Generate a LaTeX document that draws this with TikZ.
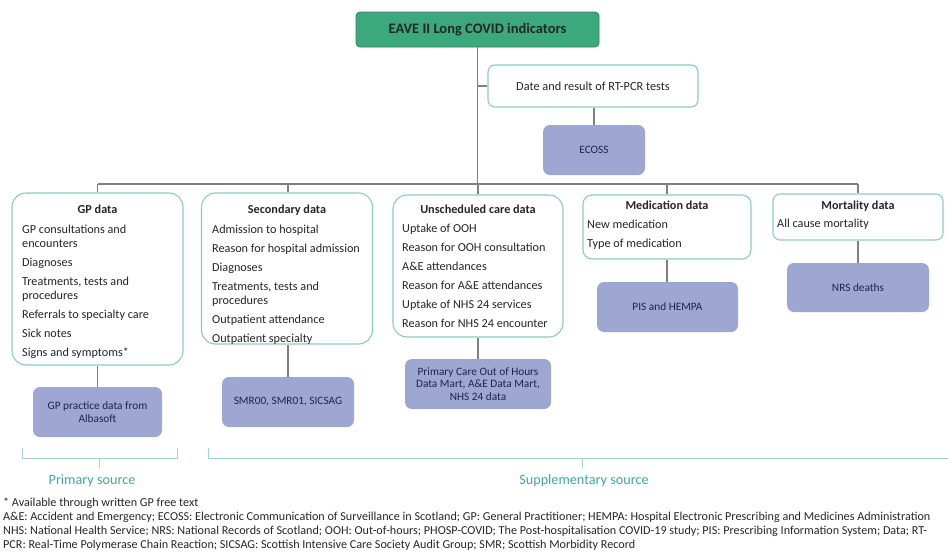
\documentclass[tikz,border=0pt]{standalone}
\usepackage{fontspec}
\setmainfont{Carlito}
\definecolor{titleGreen}{RGB}{60,168,126}
\definecolor{titleEdge}{RGB}{44,130,96}
\definecolor{boxTeal}{RGB}{140,204,188}
\definecolor{srcFill}{RGB}{158,166,210}
\definecolor{srcText}{RGB}{28,36,80}
\definecolor{connGray}{RGB}{128,128,128}
\definecolor{braceTeal}{RGB}{165,212,205}
\definecolor{labelTeal}{RGB}{70,165,165}
\definecolor{bodyText}{RGB}{38,38,38}
\newcommand{\itemfont}{\fontsize{12.2}{14}\selectfont}
\newcommand{\srcfont}{\fontsize{11.3}{12.5}\selectfont}
\begin{document}
\begin{tikzpicture}[x=1pt,y=-1pt,
  conn/.style={draw=connGray, line width=1.5pt},
  databox/.style={draw=boxTeal, line width=1.1pt, fill=white, rounded corners=14pt, inner sep=0pt},
  srcbox/.style={fill=srcFill, rounded corners=7pt, inner sep=0pt, align=center, text=srcText, font=\srcfont},
  headtext/.style={anchor=base, inner sep=0pt, text=bodyText, font=\fontsize{12.2}{14}\selectfont\bfseries},
  listtext/.style={anchor=base west, inner sep=0pt, text=bodyText, font=\itemfont},
  bracket/.style={draw=braceTeal, line width=1pt},
  srclabel/.style={text=labelTeal, font=\fontsize{14.2}{16}\selectfont, inner sep=0pt}
]
\useasboundingbox (0,0) rectangle (948,554);

% top of the tree
\node[fill=titleGreen, draw=titleEdge, line width=0.8pt, rounded corners=4pt,
      minimum width=243pt, minimum height=35pt, inner sep=0pt,
      font=\fontsize{14.5}{16}\selectfont\bfseries, text=black!85] (title) at (477.5,29.5) {EAVE II Long COVID indicators};
\node[databox, rounded corners=7pt, minimum width=210pt, minimum height=42pt,
      font=\fontsize{12.3}{14}\selectfont, text=bodyText] (rtpcr) at (593,86) {Date and result of RT-PCR tests};
\node[srcbox, minimum width=102pt, minimum height=50pt] (ecoss) at (594,150) {ECOSS};

% indicator groups
\node[databox, minimum width=171pt, minimum height=172pt] (gp)   at (97.5,279) {};
\node[databox, minimum width=171pt, minimum height=151pt] (sec)  at (287,268.5) {};
\node[databox, minimum width=170pt, minimum height=142pt] (uns)  at (478,266) {};
\node[databox, rounded corners=9pt, minimum width=168pt, minimum height=64pt] (med)  at (667,227) {};
\node[databox, rounded corners=7pt, minimum width=170pt, minimum height=46pt] (mort) at (858,217) {};

% data sources
\node[srcbox, minimum width=129pt, minimum height=50pt] (gpsrc)  at (97.5,412) {GP practice data from\\Albasoft};
\node[srcbox, minimum width=132pt, minimum height=50pt] (secsrc) at (288,402) {SMR00, SMR01, SICSAG};
\node[srcbox, minimum width=146pt, minimum height=50pt] (unssrc) at (478,384) {Primary Care Out of Hours\\Data Mart, A\&E Data Mart,\\NHS 24 data};
\node[srcbox, minimum width=141pt, minimum height=50pt] (pis)    at (667.5,307) {PIS and HEMPA};
\node[srcbox, minimum width=142pt, minimum height=49pt] (nrs)    at (858,287.5) {NRS deaths};

% group headings and contents
\node[headtext] (gph)   at (97.5,213) {GP data};
\node[headtext] (sech)  at (287,213) {Secondary data};
\node[headtext] (unsh)  at (478,213) {Unscheduled care data};
\node[headtext] (medh)  at (667,209) {Medication data};
\node[headtext] (morth) at (858,209) {Mortality data};

\node[listtext] (gpl) at (22,233) {\parbox[t]{165pt}{\raggedright
  GP consultations and\\encounters\\[5pt]
  Diagnoses\\[5pt]
  Treatments, tests and\\procedures\\[5pt]
  Referrals to specialty care\\[5pt]
  Sick notes\\[5pt]
  Signs and symptoms*}};
\node[listtext] (secl) at (212,233) {\parbox[t]{165pt}{\raggedright
  Admission to hospital\\[5pt]
  Reason for hospital admission\\[5pt]
  Diagnoses\\[5pt]
  Treatments, tests and\\procedures\\[5pt]
  Outpatient attendance\\[5pt]
  Outpatient specialty}};
\node[listtext] (unsl) at (402,232) {\parbox[t]{165pt}{\raggedright
  Uptake of OOH\\[5pt]
  Reason for OOH consultation\\[5pt]
  A\&E attendances\\[5pt]
  Reason for A\&E attendances\\[5pt]
  Uptake of NHS 24 services\\[5pt]
  Reason for NHS 24 encounter}};
\node[listtext] (medl) at (587,228) {\parbox[t]{160pt}{\raggedright
  New medication\\[5pt]
  Type of medication}};
\node[listtext] (mortl) at (777,227) {All cause mortality};

% connectors
\coordinate (busL) at (98,184);
\coordinate (busR) at (858,184);
\draw[conn] (busL) -- (busR);
\draw[conn] (title.south) -- (title.south |- busL);
\draw[conn] (rtpcr.west) -- (rtpcr.west -| title.south);
\draw[conn] (ecoss.north) -- (ecoss.north |- rtpcr.south);
\draw[conn] (gp.north)  -- (gp.north |- busL);
\draw[conn] (secsrc.north |- sec.north) -- (secsrc.north |- busL);
\draw[conn] (uns.north) -- (uns.north |- busL);
\draw[conn] (med.north) -- (med.north |- busL);
\draw[conn] (mort.north) -- (mort.north |- busL);
\draw[conn] (gp.south) -- (gpsrc.north);
\draw[conn] (secsrc.north) -- (secsrc.north |- sec.south);
\draw[conn] (uns.south) -- (unssrc.north);
\draw[conn] (med.south) -- (med.south |- pis.north);
\draw[conn] (mort.south) -- (nrs.north);

% source brackets
\draw[bracket] (22,448) -- (22,458) -- (177,458) -- (177,448);
\draw[bracket] (99.5,458) -- (99.5,468);
\draw[bracket] (208,448) -- (208,458) -- (948,458);
\draw[bracket] (582,458) -- (582,468);
\node[srclabel] (primlab) at (92,481) {Primary source};
\node[srclabel] (supplab) at (584,481) {Supplementary source};

% footnotes
\node[anchor=base west, inner sep=0pt, text=bodyText, font=\fontsize{12.15}{14.3}\selectfont] (notes) at (3,506) {%
  \begin{tabular}[t]{@{}l@{}}
  * Available through written GP free text\\
  A\&E: Accident and Emergency; ECOSS: Electronic Communication of Surveillance in Scotland; GP: General Practitioner; HEMPA: Hospital Electronic Prescribing and Medicines Administration\\
  NHS: National Health Service; NRS: National Records of Scotland; OOH: Out-of-hours; PHOSP-COVID; The Post-hospitalisation COVID-19 study; PIS: Prescribing Information System; Data; RT-\\
  PCR: Real-Time Polymerase Chain Reaction; SICSAG: Scottish Intensive Care Society Audit Group; SMR; Scottish Morbidity Record
  \end{tabular}};
\end{tikzpicture}
\end{document}
